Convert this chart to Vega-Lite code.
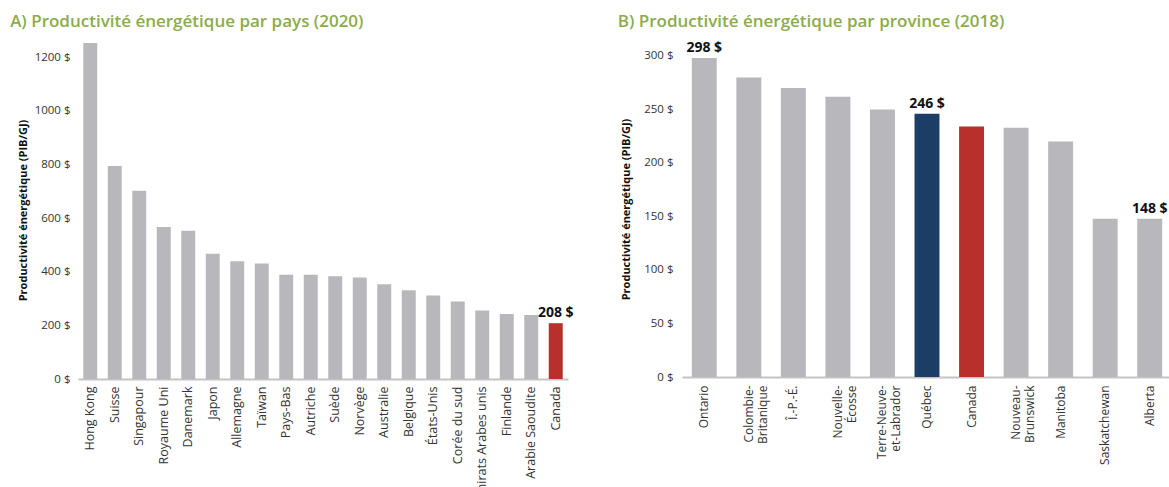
{
  "$schema": "https://vega.github.io/schema/vega-lite/v6.json",
  "background": "white",
  "padding": {"left": 10, "top": 13, "right": 0, "bottom": 0},
  "spacing": 43,
  "config": {
    "font": "Open Sans",
    "view": {"stroke": null},
    "axis": {"grid": false, "ticks": false, "labelFont": "Open Sans", "labelColor": "#333333", "titleFont": "Open Sans", "titleColor": "#111111"},
    "title": {"font": "Open Sans", "fontSize": 17, "fontWeight": 600, "color": "#8cac4a", "anchor": "start", "frame": "bounds"}
  },
  "datasets": {
    "pays": [
      {"pays": "Hong Kong", "valeur": 1253, "groupe": "autre", "etiquette": ""},
      {"pays": "Suisse", "valeur": 794, "groupe": "autre", "etiquette": ""},
      {"pays": "Singapour", "valeur": 702, "groupe": "autre", "etiquette": ""},
      {"pays": "Royaume Uni", "valeur": 567, "groupe": "autre", "etiquette": ""},
      {"pays": "Danemark", "valeur": 553, "groupe": "autre", "etiquette": ""},
      {"pays": "Japon", "valeur": 467, "groupe": "autre", "etiquette": ""},
      {"pays": "Allemagne", "valeur": 439, "groupe": "autre", "etiquette": ""},
      {"pays": "Taïwan", "valeur": 431, "groupe": "autre", "etiquette": ""},
      {"pays": "Pays-Bas", "valeur": 389, "groupe": "autre", "etiquette": ""},
      {"pays": "Autriche", "valeur": 389, "groupe": "autre", "etiquette": ""},
      {"pays": "Suède", "valeur": 383, "groupe": "autre", "etiquette": ""},
      {"pays": "Norvège", "valeur": 378, "groupe": "autre", "etiquette": ""},
      {"pays": "Australie", "valeur": 353, "groupe": "autre", "etiquette": ""},
      {"pays": "Belgique", "valeur": 331, "groupe": "autre", "etiquette": ""},
      {"pays": "États-Unis", "valeur": 311, "groupe": "autre", "etiquette": ""},
      {"pays": "Corée du sud", "valeur": 289, "groupe": "autre", "etiquette": ""},
      {"pays": "Émirats Arabes unis", "valeur": 255, "groupe": "autre", "etiquette": ""},
      {"pays": "Finlande", "valeur": 242, "groupe": "autre", "etiquette": ""},
      {"pays": "Arabie Saoudite", "valeur": 239, "groupe": "autre", "etiquette": ""},
      {"pays": "Canada", "valeur": 208, "groupe": "Canada", "etiquette": "208 $"}
    ],
    "provinces": [
      {"province": "Ontario", "valeur": 298, "groupe": "autre", "etiquette": "298 $"},
      {"province": "Colombie-\nBritanique", "valeur": 280, "groupe": "autre", "etiquette": ""},
      {"province": "Î.-P.-É.", "valeur": 270, "groupe": "autre", "etiquette": ""},
      {"province": "Nouvelle-\nÉcosse", "valeur": 262, "groupe": "autre", "etiquette": ""},
      {"province": "Terre-Neuve-\net-Labrador", "valeur": 250, "groupe": "autre", "etiquette": ""},
      {"province": "Québec", "valeur": 246, "groupe": "Québec", "etiquette": "246 $"},
      {"province": "Canada", "valeur": 234, "groupe": "Canada", "etiquette": ""},
      {"province": "Nouveau-\nBrunswick", "valeur": 233, "groupe": "autre", "etiquette": ""},
      {"province": "Manitoba", "valeur": 220, "groupe": "autre", "etiquette": ""},
      {"province": "Saskatchewan", "valeur": 148, "groupe": "autre", "etiquette": ""},
      {"province": "Alberta", "valeur": 148, "groupe": "autre", "etiquette": "148 $"}
    ]
  },
  "hconcat": [
    {
      "title": {"text": "A) Productivité énergétique par pays (2020)", "offset": 10, "dx": -7},
      "width": 490,
      "height": 338,
      "data": {"name": "pays"},
      "encoding": {
        "x": {"field": "pays", "type": "nominal", "sort": null,
          "scale": {"paddingInner": 0.43, "paddingOuter": 0.215},
          "axis": {"title": null, "labelAngle": -90, "labelFontSize": 12.5, "labelPadding": 7, "domainColor": "#c4c4c4", "domainWidth": 2}},
        "y": {"field": "valeur", "type": "quantitative",
          "scale": {"domain": [0, 1260], "nice": false},
          "axis": {"title": "Productivité énergétique (PIB/GJ)", "titleFontSize": 11, "titleFontWeight": "bold", "titlePadding": 6, "values": [0, 200, 400, 600, 800, 1000, 1200], "labelExpr": "datum.value + ' $'", "labelFontSize": 11.5, "labelPadding": 8, "domain": false}}
      },
      "layer": [
        {"mark": {"type": "bar"},
          "encoding": {"color": {"field": "groupe", "type": "nominal", "legend": null,
            "scale": {"domain": ["autre", "Canada", "Québec"], "range": ["#b8b8bc", "#b82f2c", "#1b3d66"]}}}},
        {"transform": [{"filter": "datum.etiquette != ''"}],
          "mark": {"type": "text", "baseline": "bottom", "dy": -3, "fontSize": 14, "fontWeight": "bold", "color": "#111111"},
          "encoding": {"text": {"field": "etiquette"}}}
      ]
    },
    {
      "title": {"text": "B) Productivité énergétique par province (2018)", "offset": 10, "dx": -3},
      "width": 490,
      "height": 336,
      "data": {"name": "provinces"},
      "encoding": {
        "x": {"field": "province", "type": "nominal", "sort": null,
          "scale": {"paddingInner": 0.44, "paddingOuter": 0.22},
          "axis": {"title": null, "labelAngle": -90, "labelFontSize": 12, "labelPadding": 8, "labelExpr": "split(datum.value, '\\n')", "labelLineHeight": 14, "domainColor": "#c4c4c4", "domainWidth": 2}},
        "y": {"field": "valeur", "type": "quantitative",
          "scale": {"domain": [0, 314], "nice": false},
          "axis": {"title": "Productivité énergétique (PIB/GJ)", "titleFontSize": 11, "titleFontWeight": "bold", "titlePadding": 12, "values": [0, 50, 100, 150, 200, 250, 300], "labelExpr": "datum.value + ' $'", "labelFontSize": 11.5, "labelPadding": 9, "domain": false}}
      },
      "layer": [
        {"mark": {"type": "bar"},
          "encoding": {"color": {"field": "groupe", "type": "nominal", "legend": null,
            "scale": {"domain": ["autre", "Canada", "Québec"], "range": ["#b8b8bc", "#b82f2c", "#1b3d66"]}}}},
        {"transform": [{"filter": "datum.etiquette != ''"}],
          "mark": {"type": "text", "baseline": "bottom", "dy": -3, "fontSize": 14, "fontWeight": "bold", "color": "#111111"},
          "encoding": {"text": {"field": "etiquette"}}}
      ]
    }
  ]
}
